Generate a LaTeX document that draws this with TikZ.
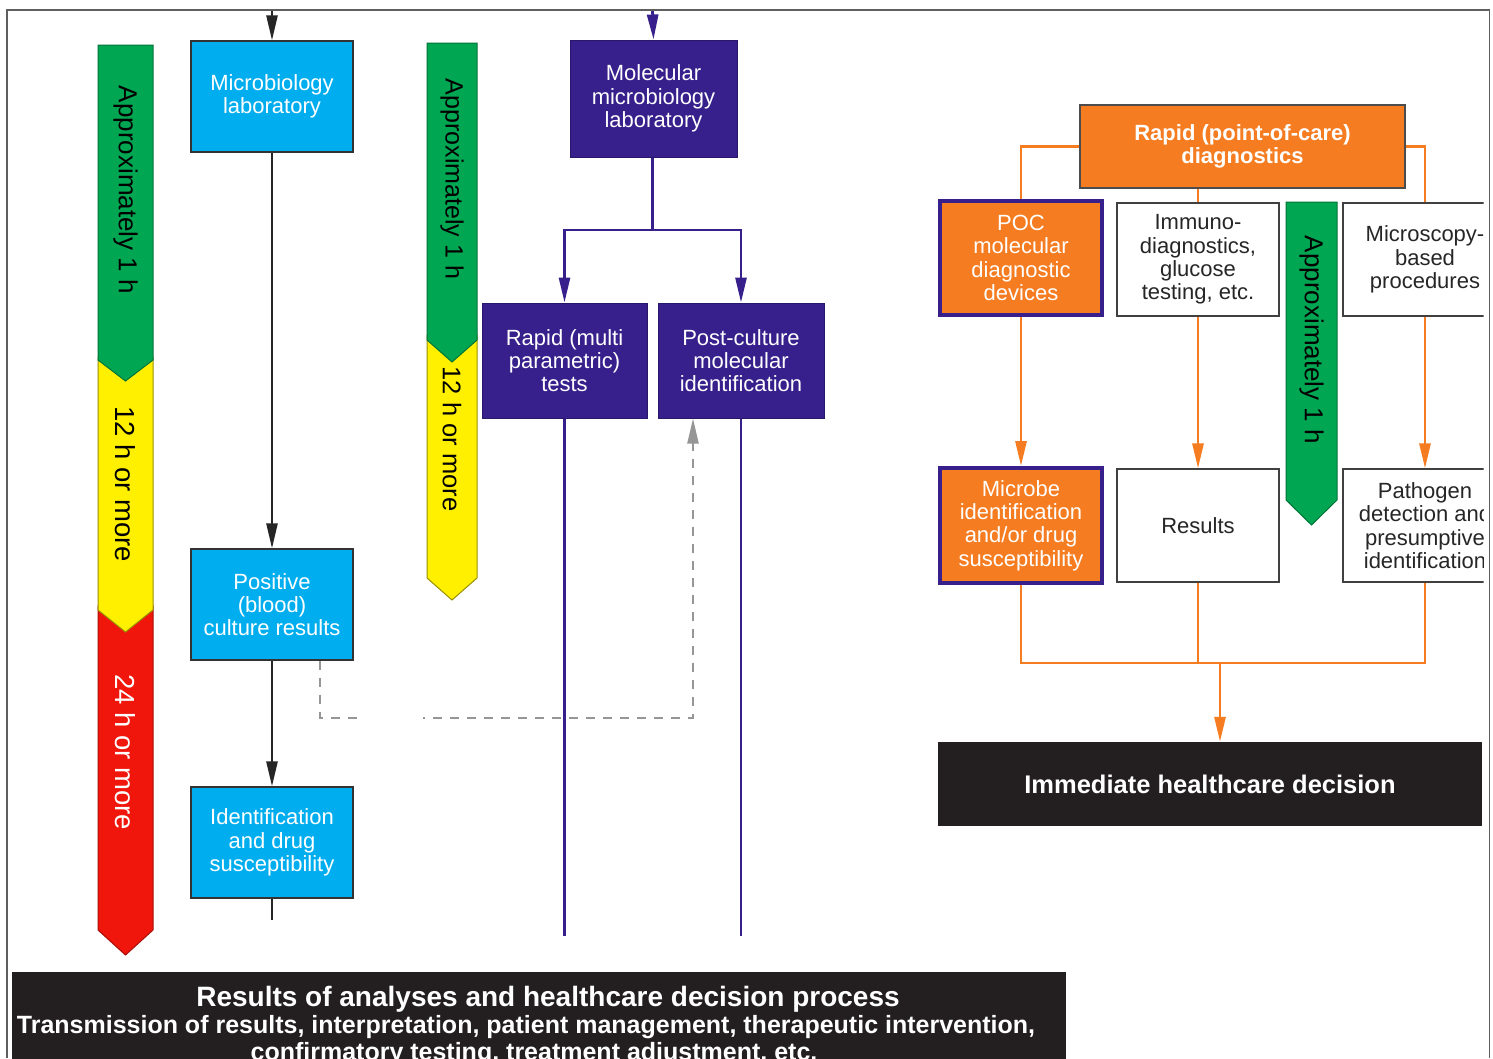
\documentclass[tikz,border=0pt]{standalone}
\usepackage{fontspec}
\setmainfont{Liberation Sans}
\usetikzlibrary{arrows.meta}
\definecolor{cblue}{RGB}{0,173,238}
\definecolor{cpurple}{RGB}{55,32,140}
\definecolor{corange}{RGB}{245,124,32}
\definecolor{cgreen}{RGB}{0,166,81}
\definecolor{cyellow}{RGB}{255,240,0}
\definecolor{cred}{RGB}{240,22,12}
\definecolor{cdark}{RGB}{35,31,32}
\definecolor{cgray}{RGB}{150,150,150}
\definecolor{cframe}{RGB}{95,95,95}
\tikzset{
  bx/.style={rectangle, inner sep=0pt, align=center, font=\fontsize{22}{23.3}\selectfont},
  bluebox/.style={bx, fill=cblue, draw=black!80, line width=1.2, text=white},
  purplebox/.style={bx, fill=cpurple, draw=cpurple!75!black, line width=1, text=white},
  orbox/.style={bx, fill=corange, draw=cpurple, line width=4, text=white},
  whitebox/.style={bx, fill=white, draw=black!75, line width=1.2, text=black!85},
  darkbox/.style={rectangle, inner sep=0pt, fill=cdark},
  darktext/.style={text=white, inner sep=0pt, font=\bfseries\fontsize{25}{27}\selectfont},
  barlabel/.style={rotate=-90, inner sep=0pt, font=\fontsize{26}{26}\selectfont},
  greenbar/.style={fill=cgreen, draw=cgreen!70!black, line width=1},
  yellowbar/.style={fill=cyellow, draw=cyellow!60!black, line width=1},
  redbar/.style={fill=cred, draw=cred!70!black, line width=1},
  tipA/.style={-{Triangle[length=25pt,width=11pt]}},
  blackline/.style={draw=black!85, line width=2.5},
  purpleline/.style={draw=cpurple, line width=2.8},
  orangeline/.style={draw=corange, line width=2.8},
  grayline/.style={draw=cgray, line width=2.2, dash pattern=on 9pt off 8pt},
}
\begin{document}
\begin{tikzpicture}[x=1pt, y=-1pt]
\useasboundingbox (0,0) rectangle (1493,1058);
\fill[white] (0,0) rectangle (1493,1058);
\begin{scope}
\clip (0,0) rectangle (1483.5,1058);

% ---------- time bars ----------
\path[redbar] (98,606) -- (153,606) -- (153,930) -- (125.5,955) -- (98,930) -- cycle;
\path[yellowbar] (98,358) -- (153,358) -- (153,610) -- (125.5,632) -- (98,610) -- cycle;
\path[greenbar] (98,45) -- (153,45) -- (153,360) -- (125.5,381) -- (98,360) -- cycle;
\node[barlabel] (barAg) at (125.5,190) {Approximately 1 h};
\node[barlabel, font=\fontsize{27.5}{27.5}\selectfont] (barAy) at (125.5,484) {12 h or more};
\node[barlabel, font=\fontsize{27.5}{27.5}\selectfont, text=white] (barAr) at (125.5,752) {24 h or more};

\path[yellowbar] (427,335) -- (477,335) -- (477,578) -- (452,600) -- (427,578) -- cycle;
\path[greenbar] (427,43) -- (477,43) -- (477,340) -- (452,362) -- (427,340) -- cycle;
\node[barlabel, font=\fontsize{25}{25}\selectfont] (barBg) at (452,179) {Approximately 1 h};
\node[barlabel, font=\fontsize{25.5}{25.5}\selectfont] (barBy) at (452,439) {12 h or more};

\path[greenbar] (1286,202) -- (1337,202) -- (1337,500) -- (1311.5,525) -- (1286,500) -- cycle;
\node[barlabel] (barCg) at (1311.5,340) {Approximately 1 h};

% ---------- microbiology laboratory column ----------
\coordinate (topA) at (272,10);
\node[bluebox, minimum width=162, minimum height=111] (micro) at (272,96.5) {Microbiology\\laboratory};
\node[bluebox, minimum width=162, minimum height=111] (pos) at (272,604.5) {Positive\\(blood)\\culture results};
\node[bluebox, minimum width=162, minimum height=111] (ident) at (272,842.5) {Identification\\and drug\\susceptibility};
\coordinate (identEnd) at (272,920);
\draw[blackline, tipA] (topA) -- (micro.north);
\draw[blackline, tipA] (micro) -- (pos);
\draw[blackline, tipA] (pos) -- (ident);
\draw[blackline] (ident.south) -- (identEnd);

% ---------- molecular microbiology column ----------
\coordinate (topB) at (652.5,10);
\node[purplebox, minimum width=167, minimum height=117] (mol) at (653.5,98.5) {Molecular\\microbiology\\laboratory};
\node[purplebox, minimum width=165, minimum height=115] (rapid) at (564.5,360.5) {Rapid (multi\\parametric)\\tests};
\node[purplebox, minimum width=166, minimum height=115] (post) at (741,360.5) {Post-culture\\molecular\\identification};
\coordinate (splitB) at (652.5,230);
\coordinate (rapidEnd) at (564.5,936);
\coordinate (postEnd) at (741,936);
\draw[purpleline, tipA] (topB) -- (mol.north);
\draw[purpleline] (mol.south -| splitB) -- (splitB);
\draw[purpleline, tipA] (splitB) -| (rapid.north);
\draw[purpleline, tipA] (splitB) -| (post.north);
\draw[purpleline] (rapid.south) -- (rapidEnd);
\draw[purpleline] (post.south) -- (postEnd);

% dashed feedback
\draw[grayline, -{Triangle[length=25pt,width=11pt]}] ([xshift=48]pos.south) -- ++(0,57) -| ([xshift=-48]post.south);
\fill[white] (357,705) rectangle (423,730);

% ---------- results box ----------
\node[darkbox, minimum width=1054, minimum height=110] (resbox) at (539,1027) {};
\node[darktext, font=\bfseries\fontsize{28}{28}\selectfont] (res1) at (548,999) {Results of analyses and healthcare decision process};
\node[darktext] (res2) at (526,1027) {Transmission of results, interpretation, patient management, therapeutic intervention,};
\node[darktext] (res3) at (534,1054) {confirmatory testing, treatment adjustment, etc.};

% ---------- point-of-care panel ----------
\node[bx, fill=corange, draw=black!70, line width=1.2, text=white, font=\bfseries\fontsize{22}{23.5}\selectfont, minimum width=325, minimum height=83] (pocr) at (1242.5,146.5) {Rapid (point-of-care)\\diagnostics};
\node[orbox, minimum width=162, minimum height=114] (poc) at (1021,258) {POC\\molecular\\diagnostic\\devices};
\node[whitebox, minimum width=162, minimum height=113] (immuno) at (1198,259.5) {Immuno-\\diagnostics,\\glucose\\testing, etc.};
\node[whitebox, minimum width=164, minimum height=113] (micros) at (1425,259.5) {Microscopy-\\based\\procedures};
\node[orbox, minimum width=162, minimum height=115] (microbe) at (1021,525.5) {Microbe\\identification\\and/or drug\\susceptibility};
\node[whitebox, minimum width=162, minimum height=113] (res) at (1198,525.5) {Results};
\node[whitebox, minimum width=164, minimum height=113] (path) at (1425,525.5) {Pathogen\\detection and\\presumptive\\identification};
\node[darkbox, minimum width=544, minimum height=84, text=white, font=\bfseries\fontsize{25.5}{26}\selectfont] (imm) at (1210,784) {Immediate healthcare decision};
\coordinate (join) at (1220,663);

\draw[orangeline] (pocr.west) -| (poc.north);
\draw[orangeline] (pocr.east) -| (micros.north);
\draw[orangeline] (pocr.south -| immuno.north) -- (immuno.north);
\draw[orangeline, tipA] (poc) -- (microbe);
\draw[orangeline, tipA] (immuno) -- (res);
\draw[orangeline, tipA] (micros) -- (path);
\draw[orangeline] (microbe.south) -- (microbe.south |- join) -- (path.south |- join) -- (path.south);
\draw[orangeline] (res.south) -- (res.south |- join);
\draw[orangeline, tipA] (join) -- (imm.north -| join);
\end{scope}

% ---------- frame ----------
\draw[cframe, line width=1.6] (7,1058) -- (7,10) -- (1489.5,10) -- (1489.5,1058);
\end{tikzpicture}
\end{document}
